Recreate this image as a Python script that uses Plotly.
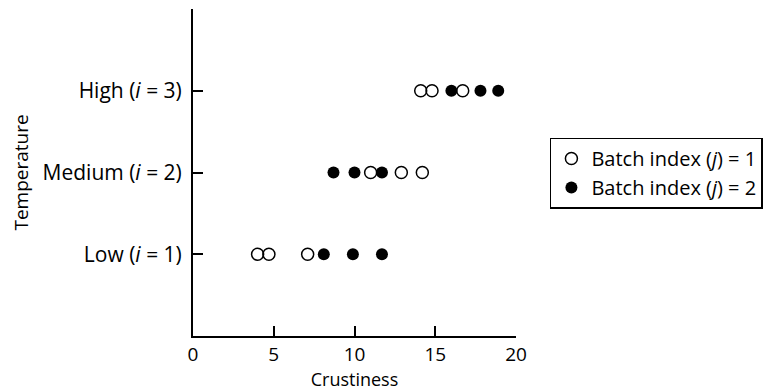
import plotly.graph_objects as go

# Data
temperature_levels = [1, 2, 3]
tick_labels = ["Low (<i>i</i> = 1)", "Medium (<i>i</i> = 2)", "High (<i>i</i> = 3)"]
batch1_low = [4.0, 4.7, 7.1]
batch1_medium = [11.0, 12.9, 14.2]
batch1_high = [14.1, 14.8, 16.7]
batch2_low = [8.1, 9.9, 11.7]
batch2_medium = [8.7, 10.0, 11.7]
batch2_high = [16.0, 17.8, 18.9]

def flatten(groups):
    xs, ys = [], []
    for lvl, vals in zip(temperature_levels, groups):
        xs += vals
        ys += [lvl] * len(vals)
    return xs, ys

x1, y1 = flatten([batch1_low, batch1_medium, batch1_high])
x2, y2 = flatten([batch2_low, batch2_medium, batch2_high])

FONT = "Open Sans, Lato, sans-serif"

fig = go.Figure()
fig.add_trace(go.Scatter(
    x=x1, y=y1, mode="markers", name="Batch index (<i>j</i>) = 1",
    marker=dict(symbol="circle-open", size=12, color="black", line=dict(width=1.5, color="black")),
))
fig.add_trace(go.Scatter(
    x=x2, y=y2, mode="markers", name="Batch index (<i>j</i>) = 2",
    marker=dict(symbol="circle", size=12, color="black"),
))

fig.update_layout(
    width=764, height=383,
    margin=dict(l=185, r=256, t=1, b=55, autoexpand=False),
    paper_bgcolor="white", plot_bgcolor="white",
    font=dict(family=FONT, size=21, color="black"),
    showlegend=True,
    legend=dict(
        x=1.105, y=0.607, xanchor="left", yanchor="top",
        bordercolor="black", borderwidth=1.5, bgcolor="white",
        font=dict(family=FONT, size=20, color="black"),
        itemwidth=30, tracegroupgap=0,
    ),
    xaxis=dict(
        range=[0, 20], tickvals=[0, 5, 10, 15, 20],
        showline=True, linecolor="black", linewidth=2,
        ticks="inside", ticklen=10, tickwidth=1.5, tickcolor="black",
        showgrid=False, zeroline=False, automargin=False,
        title=dict(text="Crustiness", standoff=7, font=dict(size=18)),
        tickfont=dict(size=19),
    ),
    yaxis=dict(
        range=[0, 4], tickvals=[1, 2, 3, 4], ticktext=tick_labels + [""],
        showline=True, linecolor="black", linewidth=2,
        ticks="inside", ticklen=10, tickwidth=1.5, tickcolor="black",
        showgrid=False, zeroline=False, automargin=False,
        ticklabelstandoff=5,
        title=dict(text="Temperature", standoff=14, font=dict(size=19)),
        tickfont=dict(size=21),
    ),
)

fig.write_html("out.html")
